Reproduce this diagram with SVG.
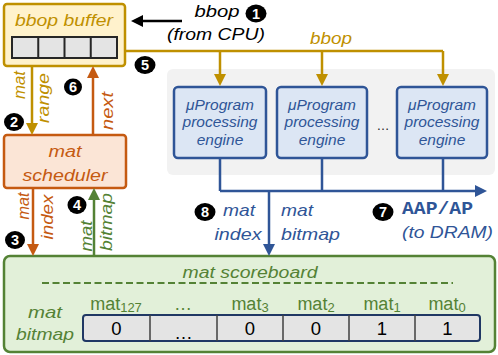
<svg xmlns="http://www.w3.org/2000/svg" width="498" height="355" viewBox="0 0 498 355">
<style>
text{font-family:"Liberation Sans",Arial,sans-serif}
.it{font-style:italic}
.gold{fill:#bf9000}.org{fill:#c55a11}.grn{fill:#548235}.blu{fill:#2f5597}.blk{fill:#000}
.ln{fill:none;stroke-width:2.5}
.lg{stroke:#bf9000}.lo{stroke:#c55a11}.lgr{stroke:#548235}.lb{stroke:#2f5597}.lk{stroke:#000}
.num{fill:#fff;font-weight:bold;font-size:14.5px;text-anchor:middle}
.eng{fill:#dce6f4;stroke:#2f5597;stroke-width:2.5}
.et{fill:#2f5597;font-style:italic;font-size:15.5px;text-anchor:middle}
.cl{fill:#548235;font-size:18px;text-anchor:middle}
.cv{fill:#000;font-size:18.5px;text-anchor:middle}
</style>
<defs>
<marker id="ag" viewBox="0 0 12 12" refX="6" refY="6" markerWidth="12" markerHeight="12" markerUnits="userSpaceOnUse" orient="auto"><path d="M0,0L12,6L0,12z" fill="#bf9000"/></marker>
<marker id="ao" viewBox="0 0 12 12" refX="6" refY="6" markerWidth="12" markerHeight="12" markerUnits="userSpaceOnUse" orient="auto"><path d="M0,0L12,6L0,12z" fill="#c55a11"/></marker>
<marker id="agr" viewBox="0 0 12 12" refX="6" refY="6" markerWidth="12" markerHeight="12" markerUnits="userSpaceOnUse" orient="auto"><path d="M0,0L12,6L0,12z" fill="#548235"/></marker>
<marker id="ab" viewBox="0 0 12 12" refX="6" refY="6" markerWidth="12" markerHeight="12" markerUnits="userSpaceOnUse" orient="auto"><path d="M0,0L12,6L0,12z" fill="#2f5597"/></marker>
<marker id="ak" viewBox="0 0 12 12" refX="6" refY="6" markerWidth="12" markerHeight="12" markerUnits="userSpaceOnUse" orient="auto"><path d="M0,0L12,6L0,12z" fill="#000"/></marker>
</defs>

<rect id="panel" x="167" y="69" width="328" height="106" rx="6" fill="#f2f2f2"/>

<g id="bbop-buffer">
<rect x="4" y="4" width="121" height="62" rx="3" fill="#fff2cc" stroke="#bf9000" stroke-width="2.5"/>
<text class="gold it" x="64" y="26" font-size="16" text-anchor="middle" textLength="98" lengthAdjust="spacingAndGlyphs">bbop buffer</text>
<rect x="12" y="37" width="105" height="21" fill="#e4e4e4" stroke="#262626" stroke-width="2"/>
<path d="M38.25,37V58M64.5,37V58M90.75,37V58" stroke="#262626" stroke-width="2"/>
</g>

<g id="mat-scheduler">
<rect x="4" y="135" width="122" height="53" rx="3" fill="#fbe5d6" stroke="#c55a11" stroke-width="2.5"/>
<text class="org it" x="65" y="157" font-size="16" text-anchor="middle" textLength="33" lengthAdjust="spacingAndGlyphs">mat</text>
<text class="org it" x="65" y="181" font-size="16" text-anchor="middle" textLength="85" lengthAdjust="spacingAndGlyphs">scheduler</text>
</g>

<g id="engine1">
<rect class="eng" x="174" y="87" width="92" height="71" rx="4"/>
<text class="et" x="220" y="110">μProgram</text>
<text class="et" x="220" y="127">processing</text>
<text class="et" x="220" y="145">engine</text>
</g>
<g id="engine2">
<rect class="eng" x="277" y="87" width="90" height="71" rx="4"/>
<text class="et" x="322" y="110">μProgram</text>
<text class="et" x="322" y="127">processing</text>
<text class="et" x="322" y="145">engine</text>
</g>
<text x="383" y="130" font-size="13" text-anchor="middle" fill="#222">…</text>
<g id="engine3">
<rect class="eng" x="397" y="87" width="90" height="71" rx="4"/>
<text class="et" x="442" y="110">μProgram</text>
<text class="et" x="442" y="127">processing</text>
<text class="et" x="442" y="145">engine</text>
</g>

<g id="mat-scoreboard">
<rect x="4" y="256" width="491" height="96" rx="6" fill="#e2f0d9" stroke="#548235" stroke-width="2.5"/>
<text class="grn it" x="250" y="278" font-size="16" text-anchor="middle" textLength="135" lengthAdjust="spacingAndGlyphs">mat scoreboard</text>
<line x1="42" y1="283" x2="453" y2="283" stroke="#548235" stroke-width="2" stroke-dasharray="7,3.5"/>
<text class="grn it" x="45" y="318" font-size="17" text-anchor="middle" textLength="34" lengthAdjust="spacingAndGlyphs">mat</text>
<text class="grn it" x="45" y="340" font-size="17" text-anchor="middle" textLength="58" lengthAdjust="spacingAndGlyphs">bitmap</text>
<text class="cl" x="116" y="310">mat<tspan font-size="13" dy="2">127</tspan></text>
<text class="cl" x="183" y="310">…</text>
<text class="cl" x="250" y="310">mat<tspan font-size="13" dy="2">3</tspan></text>
<text class="cl" x="316" y="310">mat<tspan font-size="13" dy="2">2</tspan></text>
<text class="cl" x="382" y="310">mat<tspan font-size="13" dy="2">1</tspan></text>
<text class="cl" x="447" y="310">mat<tspan font-size="13" dy="2">0</tspan></text>
<rect x="83" y="315" width="397" height="26" rx="3" fill="#e4e4e4" stroke="#203864" stroke-width="2"/>
<path d="M150,315V341M217,315V341M283,315V341M349,315V341M415,315V341" stroke="#404040" stroke-width="1.5"/>
<text class="cv" x="116.5" y="335">0</text>
<text class="cv" x="183.5" y="339">…</text>
<text class="cv" x="250" y="335">0</text>
<text class="cv" x="316" y="335">0</text>
<text class="cv" x="382" y="335">1</text>
<text class="cv" x="447.5" y="335">1</text>
</g>

<g id="connectors">
<line class="ln lk" x1="182" y1="21" x2="137" y2="21" marker-end="url(#ak)"/>
<path class="ln lg" d="M125,51H443"/>
<line class="ln lg" x1="220" y1="51" x2="220" y2="80" marker-end="url(#ag)"/>
<line class="ln lg" x1="322" y1="51" x2="322" y2="80" marker-end="url(#ag)"/>
<line class="ln lg" x1="443" y1="51" x2="443" y2="80" marker-end="url(#ag)"/>
<line class="ln lg" x1="32" y1="66" x2="32" y2="129" marker-end="url(#ag)"/>
<line class="ln lo" x1="93" y1="135" x2="93" y2="72" marker-end="url(#ao)"/>
<line class="ln lo" x1="33" y1="188" x2="33" y2="250" marker-end="url(#ao)"/>
<line class="ln lgr" x1="94" y1="256" x2="94" y2="194" marker-end="url(#agr)"/>
<path class="ln lb" d="M220,158V191M322,158V191M443,158V191"/>
<line class="ln lb" x1="220" y1="191" x2="481" y2="191" marker-end="url(#ab)"/>
<line class="ln lb" x1="269" y1="191" x2="269" y2="250" marker-end="url(#ab)"/>
</g>

<g id="labels">
<text class="blk it" x="217" y="17" font-size="16" text-anchor="middle" textLength="45" lengthAdjust="spacingAndGlyphs">bbop</text>
<text class="blk it" x="216" y="40" font-size="16" text-anchor="middle" textLength="98" lengthAdjust="spacingAndGlyphs">(from CPU)</text>
<text class="gold it" x="331" y="44" font-size="16" text-anchor="middle" textLength="42" lengthAdjust="spacingAndGlyphs">bbop</text>
<text class="gold it" transform="translate(25,85) rotate(-90)" font-size="17" text-anchor="middle" textLength="28" lengthAdjust="spacingAndGlyphs">mat</text>
<text class="gold it" transform="translate(49,98) rotate(-90)" font-size="17" text-anchor="middle" textLength="50" lengthAdjust="spacingAndGlyphs">range</text>
<text class="org it" transform="translate(113,111) rotate(-90)" font-size="17" text-anchor="middle" textLength="38" lengthAdjust="spacingAndGlyphs">next</text>
<text class="org it" transform="translate(29,206) rotate(-90)" font-size="17" text-anchor="middle" textLength="27" lengthAdjust="spacingAndGlyphs">mat</text>
<text class="org it" transform="translate(53,217) rotate(-90)" font-size="17" text-anchor="middle" textLength="45" lengthAdjust="spacingAndGlyphs">index</text>
<text class="grn it" transform="translate(92,236) rotate(-90)" font-size="17" text-anchor="middle" textLength="31" lengthAdjust="spacingAndGlyphs">mat</text>
<text class="grn it" transform="translate(112,222) rotate(-90)" font-size="17" text-anchor="middle" textLength="58" lengthAdjust="spacingAndGlyphs">bitmap</text>
<text class="blu it" x="239" y="216" font-size="17" text-anchor="middle" textLength="32" lengthAdjust="spacingAndGlyphs">mat</text>
<text class="blu it" x="238" y="240" font-size="17" text-anchor="middle" textLength="47" lengthAdjust="spacingAndGlyphs">index</text>
<text class="blu it" x="281" y="216" font-size="17" textLength="32" lengthAdjust="spacingAndGlyphs">mat</text>
<text class="blu it" x="281" y="240" font-size="17" textLength="59" lengthAdjust="spacingAndGlyphs">bitmap</text>
<text class="blu" x="402" y="214" font-weight="bold" font-size="18" textLength="71" lengthAdjust="spacingAndGlyphs" style="font-family:'Liberation Mono','Courier New',monospace">AAP/AP</text>
<text class="blu it" x="402" y="238" font-size="17" textLength="91" lengthAdjust="spacingAndGlyphs">(to DRAM)</text>
</g>

<g id="steps">
<ellipse cx="256" cy="13.5" rx="10.5" ry="9"/><text class="num" x="256" y="18.5">1</text>
<ellipse cx="14" cy="122" rx="10" ry="9"/><text class="num" x="14" y="127">2</text>
<ellipse cx="15" cy="240" rx="10" ry="9"/><text class="num" x="15" y="245">3</text>
<ellipse cx="77" cy="205" rx="9.5" ry="9"/><text class="num" x="77" y="210">4</text>
<ellipse cx="145" cy="65" rx="10.5" ry="9"/><text class="num" x="145" y="70">5</text>
<ellipse cx="73" cy="87" rx="9" ry="8.5"/><text class="num" x="73" y="92">6</text>
<ellipse cx="383" cy="212" rx="10.5" ry="9"/><text class="num" x="383" y="217">7</text>
<ellipse cx="205" cy="212" rx="10.5" ry="9"/><text class="num" x="205" y="217">8</text>
</g>
</svg>
